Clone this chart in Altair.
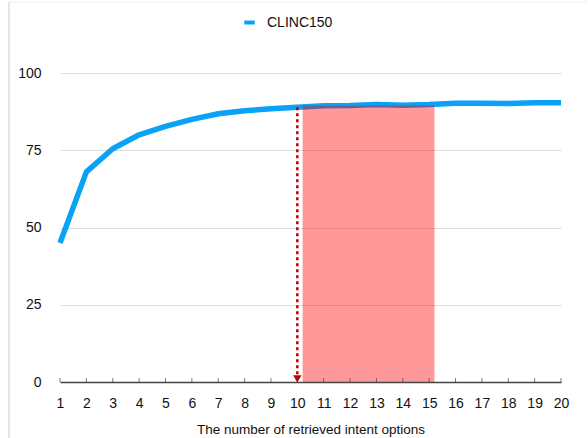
import altair as alt
import pandas as pd

k_values = list(range(1, 21))
clinc150 = [45.0, 68.0, 75.5, 80.0, 82.7, 85.0, 86.8, 87.8, 88.4, 88.9,
            89.4, 89.5, 89.8, 89.6, 89.8, 90.2, 90.2, 90.1, 90.4, 90.4]
y_ticks = [0, 25, 50, 75, 100]

highlight_start = [10.2]
highlight_end = [15.2]
highlight_top = [89.5]
arrow_x = [10]
arrow_top = [88.9]
arrow_bottom = [2.5]

line_df = pd.DataFrame({"k": k_values, "acc": clinc150, "series": ["CLINC150"] * len(k_values)})
rect_df = pd.DataFrame({"x0": highlight_start, "x1": highlight_end, "y0": [0], "y1": highlight_top})
arrow_df = pd.DataFrame({"x": arrow_x, "y0": arrow_bottom, "y1": arrow_top, "tip": [1.0]})
tick_df = pd.DataFrame({"k": k_values, "z": [0] * len(k_values)})

font = "Liberation Sans"
xscale = alt.Scale(domain=[1, 20], nice=False, zero=False)
yscale = alt.Scale(domain=[0, 100], nice=False)

x_axis = alt.Axis(values=k_values, title="The number of retrieved intent options",
                  grid=False, ticks=False, domain=True, domainColor="#444444",
                  domainWidth=1.5, labelPadding=14, labelFontSize=14,
                  labelColor="#111111", titleFontSize=13.5, titleFontWeight="normal",
                  titleColor="#111111", titlePadding=12, labelFlush=False,
                  labelOverlap=False)
y_axis = alt.Axis(values=y_ticks, title=None, domain=False, ticks=False,
                  gridColor="#dddddd", gridWidth=1, labelPadding=19,
                  labelFontSize=14, labelColor="#111111")

line = alt.Chart(line_df).mark_line(strokeWidth=5.5, strokeJoin="round", strokeCap="butt").encode(
    x=alt.X("k:Q", scale=xscale, axis=x_axis),
    y=alt.Y("acc:Q", scale=yscale, axis=y_axis),
    color=alt.Color("series:N", scale=alt.Scale(domain=["CLINC150"], range=["#0aa2f7"]),
                    legend=alt.Legend(title=None, orient="none", legendX=182, legendY=-58,
                                      symbolType="stroke", symbolStrokeWidth=4, symbolSize=110,
                                      labelFontSize=14, labelColor="#111111", labelOffset=10)),
)

ticks = alt.Chart(tick_df).mark_tick(orient="vertical", size=4, thickness=1, color="#444444", yOffset=-2).encode(
    x=alt.X("k:Q", scale=xscale, axis=x_axis),
    y=alt.Y("z:Q", scale=yscale, axis=y_axis),
)

rect = alt.Chart(rect_df).mark_rect(color="#ff0000", opacity=0.4).encode(
    x=alt.X("x0:Q", scale=xscale, axis=x_axis), x2="x1:Q",
    y=alt.Y("y0:Q", scale=yscale, axis=y_axis), y2="y1:Q",
)

dots = alt.Chart(arrow_df).mark_rule(color="#c00000", strokeWidth=2.5, strokeDash=[3, 3]).encode(
    x=alt.X("x:Q", scale=xscale, axis=x_axis),
    y=alt.Y("y0:Q", scale=yscale, axis=y_axis), y2="y1:Q",
)

head = alt.Chart(arrow_df).mark_point(shape="triangle-down", filled=True, color="#c00000",
                                      opacity=1, size=70).encode(
    x=alt.X("x:Q", scale=xscale, axis=x_axis),
    y=alt.Y("tip:Q", scale=yscale, axis=y_axis),
)

frame_left = alt.Chart(pd.DataFrame({"a": [0]})).mark_rule(color="#cccccc", strokeWidth=1).encode(
    x=alt.value(-51), y=alt.value(-71), y2=alt.value(365))
frame_top = alt.Chart(pd.DataFrame({"a": [0]})).mark_rule(color="#eeeeee", strokeWidth=1).encode(
    x=alt.value(-51), x2=alt.value(527), y=alt.value(-71))

chart = alt.layer(line, rect, dots, head, ticks, frame_left, frame_top).properties(
    width=501, height=309,
    autosize=alt.AutoSizeParams(type="none"),
    padding={"left": 60, "top": 73, "right": 27, "bottom": 56},
).configure(font=font).configure_view(stroke=None).configure_axisX(labelOverlap=False)

chart.save("out.html", embed_options={"renderer": "svg", "actions": False})
